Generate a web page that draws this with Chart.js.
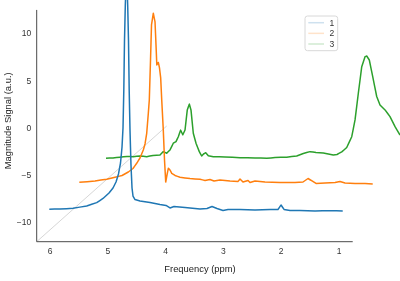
<!DOCTYPE html>
<html><head><meta charset="utf-8">
<script src="https://cdn.jsdelivr.net/npm/chart.js@4.4.0/dist/chart.umd.min.js"></script>
<style>html,body{margin:0;padding:0;background:#fff;overflow:hidden}</style>
</head><body>
<canvas id="c" width="400" height="281" style="display:block;width:400px;height:281px"></canvas>
<script>
// ---- data (ppm, magnitude) ----
const series1X = [6.012,5.827,5.602,5.365,5.192,5.083,4.979,4.910,4.858,4.815,4.780,4.754,4.737,4.723,4.711,4.697,4.676,4.656,4.642,4.630,4.616,4.599,4.581,4.564,4.529,4.443,4.270,4.097,3.993,3.924,3.855,3.664,3.405,3.284,3.197,3.111,3.007,2.920,2.713,2.453,2.194,2.055,2.003,1.951,1.848,1.675,1.415,1.156,0.936];
const series1Y = [-8.54,-8.51,-8.44,-8.19,-7.84,-7.40,-6.82,-6.29,-5.66,-4.81,-3.65,-1.96,0.05,4.07,9.36,13.05,16.75,13.05,9.36,4.07,-0.16,-3.86,-6.29,-7.14,-7.51,-7.66,-7.82,-8.03,-8.14,-8.40,-8.25,-8.35,-8.51,-8.46,-8.25,-8.46,-8.67,-8.56,-8.56,-8.61,-8.56,-8.56,-8.09,-8.56,-8.67,-8.67,-8.72,-8.69,-8.72];

const series2X = [5.493,5.221,5.019,4.875,4.754,4.645,4.564,4.500,4.443,4.386,4.356,4.327,4.299,4.282,4.261,4.244,4.213,4.183,4.166,4.152,4.126,4.106,4.085,4.067,4.040,4.019,3.998,3.976,3.953,3.924,3.894,3.837,3.751,3.578,3.405,3.318,3.232,3.163,3.059,2.886,2.747,2.713,2.661,2.574,2.540,2.453,2.280,2.021,1.761,1.623,1.536,1.467,1.398,1.242,1.069,0.983,0.896,0.723,0.550,0.417];
const series2Y = [-5.69,-5.55,-5.37,-5.16,-4.97,-4.60,-4.23,-3.68,-3.12,-2.27,-1.64,-0.51,1.61,3.01,7.24,10.94,12.18,11.26,8.83,6.71,6.98,6.40,5.34,3.01,-0.16,-3.33,-5.66,-4.92,-4.21,-4.39,-4.74,-4.97,-5.16,-5.29,-5.37,-5.50,-5.39,-5.55,-5.44,-5.55,-5.60,-5.34,-5.66,-5.50,-5.71,-5.55,-5.66,-5.71,-5.71,-5.66,-5.29,-5.55,-5.81,-5.76,-5.71,-5.60,-5.76,-5.81,-5.81,-5.87];

const series3X = [5.031,4.910,4.789,4.668,4.559,4.443,4.327,4.218,4.097,4.040,3.981,3.924,3.867,3.820,3.780,3.739,3.704,3.664,3.625,3.590,3.561,3.521,3.474,3.417,3.376,3.344,3.306,3.261,3.175,2.972,2.713,2.453,2.251,2.107,1.905,1.732,1.618,1.502,1.398,1.272,1.099,1.035,0.953,0.867,0.780,0.723,0.666,0.607,0.550,0.521,0.476,0.417,0.348,0.291,0.204,0.118,0.031,-0.055];
const series3Y = [-3.15,-3.12,-3.04,-2.96,-2.98,-2.91,-2.98,-2.85,-2.80,-2.45,-2.62,-2.27,-1.56,-1.39,-0.87,-0.16,-0.69,-0.16,1.96,2.59,1.96,-0.51,-1.56,-2.45,-2.91,-2.70,-2.56,-2.88,-2.98,-3.01,-3.09,-3.12,-3.15,-3.07,-3.04,-2.91,-2.64,-2.45,-2.54,-2.59,-2.80,-2.75,-2.48,-2.01,-0.87,0.90,3.72,6.53,7.59,7.66,7.24,5.48,3.38,2.48,1.96,1.25,0.19,-0.69];

const diagX = [6.23, 3.981];
const diagY = [-11.97, 0.26];

const seriesLabels = ['1','2','3'];
const seriesColors = ['#1f77b4','#ff7f0e','#2ca02c'];
const legendColors = ['rgba(31,119,180,0.22)','rgba(255,127,14,0.22)','rgba(44,160,44,0.22)'];

const xTicks = [6,5,4,3,2,1];
const yTicks = [-10,-5,0,5,10];
const yTickLabels = ['\u221210','\u22125','0','5','10'];

const xMin = 0.58, xMax = 6.23, xSpineEnd = 0.763;
const yMin = -11.97, yMax = 13.58, ySpineEnd = 12.53;

const toPts = (xs, ys) => xs.map((x, i) => ({x, y: ys[i]}));
const FONT = "'Liberation Sans', Arial, sans-serif";

const spinePlugin = {
  id: 'spines',
  afterDraw(chart) {
    const {ctx, chartArea, scales} = chart;
    ctx.save();
    ctx.strokeStyle = '#4a4a4a';
    ctx.lineWidth = 1;
    ctx.beginPath();
    const ytop = scales.y.getPixelForValue(ySpineEnd);
    const xend = scales.x.getPixelForValue(xSpineEnd);
    ctx.moveTo(chartArea.left, ytop);
    ctx.lineTo(chartArea.left, chartArea.bottom);
    ctx.lineTo(xend, chartArea.bottom);
    ctx.stroke();
    // legend
    const bx = chartArea.right - 58.3, by = chartArea.top + 16, bw = 32.7, bh = 34.7, r = 2.5;
    ctx.fillStyle = 'rgba(255,255,255,0.85)';
    ctx.strokeStyle = '#d8d8d8';
    ctx.lineWidth = 1;
    ctx.beginPath();
    ctx.moveTo(bx + r, by);
    ctx.lineTo(bx + bw - r, by); ctx.arcTo(bx + bw, by, bx + bw, by + r, r);
    ctx.lineTo(bx + bw, by + bh - r); ctx.arcTo(bx + bw, by + bh, bx + bw - r, by + bh, r);
    ctx.lineTo(bx + r, by + bh); ctx.arcTo(bx, by + bh, bx, by + bh - r, r);
    ctx.lineTo(bx, by + r); ctx.arcTo(bx, by, bx + r, by, r);
    ctx.closePath(); ctx.fill(); ctx.stroke();
    ctx.font = '8.5px ' + FONT;
    ctx.textBaseline = 'middle';
    ctx.textAlign = 'left';
    seriesLabels.forEach((lab, i) => {
      const yy = by + 6.7 + i * 10.65;
      ctx.strokeStyle = legendColors[i];
      ctx.lineWidth = 1.5;
      ctx.beginPath(); ctx.moveTo(bx + 3.3, yy); ctx.lineTo(bx + 19, yy); ctx.stroke();
      ctx.fillStyle = '#333';
      ctx.fillText(lab, bx + 24.5, yy + 0.5);
    });
    ctx.restore();
  }
};

const lineOpts = {borderWidth: 1.5, pointRadius: 0, tension: 0.0001, capBezierPoints: false, clip: false, borderJoinStyle: 'round'};

new Chart(document.getElementById('c'), {
  type: 'line',
  data: {
    datasets: [
      Object.assign({label: seriesLabels[0], data: toPts(series1X, series1Y), borderColor: seriesColors[0], order: 1}, lineOpts),
      Object.assign({label: seriesLabels[1], data: toPts(series2X, series2Y), borderColor: seriesColors[1], order: 2}, lineOpts),
      Object.assign({label: seriesLabels[2], data: toPts(series3X, series3Y), borderColor: seriesColors[2], order: 3}, lineOpts),
      {label: 'diag', data: toPts(diagX, diagY), borderColor: '#cccccc', borderWidth: 0.8, pointRadius: 0, clip: false, order: 4}
    ]
  },
  options: {
    responsive: false,
    animation: false,
    devicePixelRatio: 1,
    layout: {padding: {left: 0, top: 0, right: 36.7, bottom: 0}},
    plugins: {legend: {display: false}, tooltip: {enabled: false}},
    scales: {
      x: {
        type: 'linear', reverse: true, min: xMin, max: xMax,
        grid: {display: false, drawTicks: false},
        border: {display: false},
        afterBuildTicks: s => { s.ticks = xTicks.map(v => ({value: v})); },
        afterFit: s => { s.height = 39.3; s.paddingLeft = 0; s.paddingRight = 0; },
        ticks: {color: '#333', font: {family: FONT, size: 8.5}, padding: 5, maxRotation: 0, autoSkip: false, callback: v => String(v)},
        title: {display: true, text: 'Frequency (ppm)', color: '#222', font: {family: FONT, size: 9.4}, padding: {top: 0, bottom: 5.5}}
      },
      y: {
        type: 'linear', min: yMin, max: yMax,
        grid: {display: false, drawTicks: false},
        border: {display: false},
        afterBuildTicks: s => { s.ticks = yTicks.map(v => ({value: v})); },
        afterFit: s => { s.width = 36.7; s.paddingTop = 0; s.paddingBottom = 0; },
        ticks: {color: '#333', font: {family: FONT, size: 8.5}, padding: 5.5, autoSkip: false,
          callback: v => { const i = yTicks.indexOf(v); return i >= 0 ? yTickLabels[i] : ''; }},
        title: {display: true, text: 'Magnitude Signal (a.u.)', color: '#222', font: {family: FONT, size: 9.4}, padding: {top: 2.5, bottom: 0}}
      }
    }
  },
  plugins: [spinePlugin]
});
</script>
</body></html>
